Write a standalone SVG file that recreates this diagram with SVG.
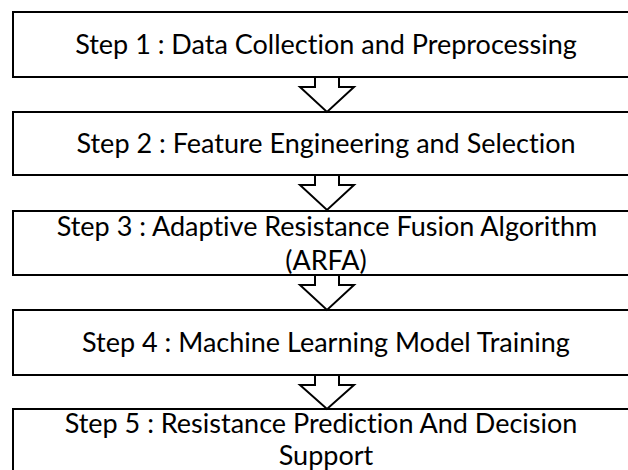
<svg xmlns="http://www.w3.org/2000/svg" width="628" height="470" viewBox="0 0 628 470">
<style>
.box{fill:#fff;stroke:#000;stroke-width:2}
.arr{fill:#fff;stroke:#000;stroke-width:2;stroke-linejoin:miter}
.t{font-family:Lato,"Liberation Sans",sans-serif;font-size:27px;fill:#000;text-anchor:middle;font-variant-ligatures:none}
</style>
<rect width="628" height="470" fill="#fff"/>
<g id="step1"><rect class="box" x="13" y="12" width="630" height="65"/><text class="t" x="326" y="54">Step 1 : Data Collection and Preprocessing</text></g>
<g id="step2"><rect class="box" x="13" y="112" width="630" height="63"/><text class="t" x="326" y="153">Step 2 : Feature Engineering and Selection</text></g>
<g id="step3"><rect class="box" x="13" y="211" width="630" height="64"/><text class="t" x="327" y="236">Step 3 : Adaptive Resistance Fusion Algorithm</text><text class="t" x="326" y="270">(ARFA)</text></g>
<g id="step4"><rect class="box" x="13" y="310" width="630" height="65"/><text class="t" x="326" y="352">Step 4 : Machine Learning Model Training</text></g>
<g id="step5"><rect class="box" x="13" y="409" width="630" height="80"/><text class="t" x="321" y="433">Step 5 : Resistance Prediction And Decision</text><text class="t" x="326" y="465">Support</text></g>
<g id="connectors">
<polygon class="arr" points="315,77 315,87 300,87 327,112 354,87 339,87 339,77"/>
<polygon class="arr" points="315,175 315,185 300,185 327,210 354,185 339,185 339,175"/>
<polygon class="arr" points="315,275 315,285 300,285 327,310 354,285 339,285 339,275"/>
<polygon class="arr" points="315,375 315,385 300,385 327,409 354,385 339,385 339,375"/>
</g>
</svg>
